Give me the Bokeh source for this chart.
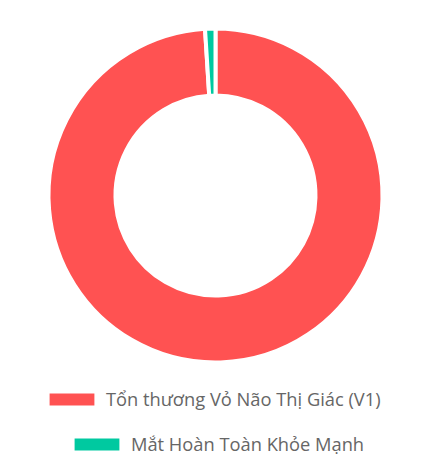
from bokeh.plotting import figure
from bokeh.models import Legend, LegendItem, ColumnDataSource
from bokeh.embed import file_html
from bokeh.resources import INLINE
import numpy as np

labels = ["Tổn thương Vỏ Não Thị Giác (V1)", "Mắt Hoàn Toàn Khỏe Mạnh"]
values = [99, 1]
colors = ["#FF5252", "#00C9A0"]

W, H = 426, 468
p = figure(width=W, height=H, x_range=(0, W), y_range=(0, H),
           output_backend="svg", toolbar_location=None, min_border=0)
p.axis.visible = False
p.grid.visible = False
p.outline_line_color = None
p.background_fill_color = "white"

frac = np.array(values, dtype=float) / sum(values)
cum = np.concatenate([[0.0], np.cumsum(frac)])
start = np.pi / 2 - 2 * np.pi * cum[:-1]
end = np.pi / 2 - 2 * np.pi * cum[1:]
src = ColumnDataSource(dict(label=labels, value=values, color=colors, start=start, end=end))

cx, cy = 215, H - 195
wedges = p.annular_wedge(x=cx, y=cy, inner_radius=100, outer_radius=167,
                         inner_radius_units="screen", outer_radius_units="screen",
                         start_angle="start", end_angle="end", direction="clock",
                         fill_color="color", line_color="white", line_width=4, source=src)

# one legend per row so each row is centred like the original
locs = [(41, 57), (66, 12)]
for i, (lab, loc) in enumerate(zip(labels, locs)):
    lg = Legend(items=[LegendItem(label=lab, renderers=[wedges], index=i)], location=loc,
                glyph_width=61, glyph_height=20, label_standoff=4,
                label_text_font="Open Sans", label_text_font_size="18.3px",
                label_text_color="#666666",
                padding=0, margin=0, border_line_color=None,
                background_fill_alpha=0, inactive_fill_alpha=0)
    p.add_layout(lg)

open("out.html", "w").write(file_html(p, INLINE))
